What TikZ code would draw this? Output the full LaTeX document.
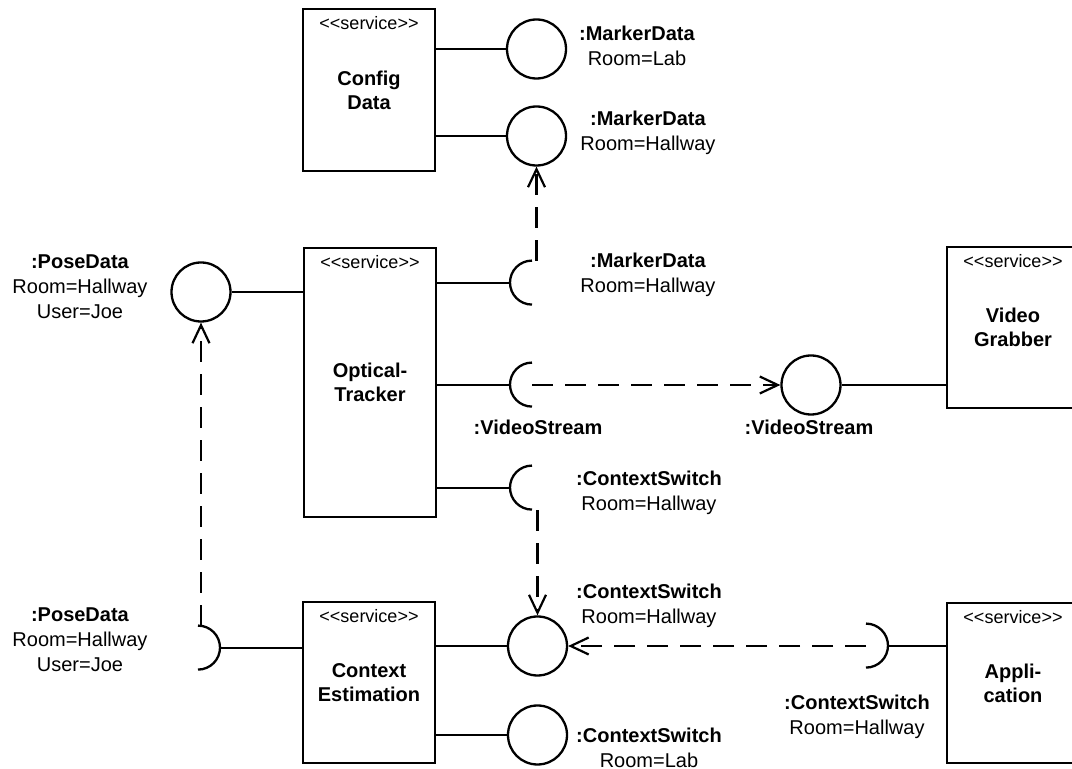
\documentclass[tikz,border=0pt]{standalone}
\usepackage{fontspec}
\setmainfont{Liberation Sans}
\usetikzlibrary{arrows.meta}

\newcommand{\stereo}{<\kern0pt<service>\kern0pt>}

\tikzset{
  svc/.style={draw, line width=1pt, minimum width=66pt, align=center, inner sep=0pt,
    font=\bfseries\fontsize{10}{12}\selectfont,
    label={[anchor=north, yshift=-3.8pt, inner sep=0pt, font=\fontsize{9}{10}\selectfont]north:\stereo}},
  iface/.style={draw, circle, line width=1.15pt, minimum size=29.5pt, inner sep=0pt},
  sock/.style={circle, minimum size=22pt, inner sep=0pt},
  txt/.style={align=center, inner sep=0pt, font=\fontsize{10}{12.5}\selectfont},
  conn/.style={line width=1.15pt},
  dep/.style={line width=1.2pt, dash pattern=on 10.5pt off 6pt,
    -{Straight Barb[length=9pt,width=8.5pt,line width=1.1pt]}}
}

\begin{document}
\begin{tikzpicture}[x=0.5pt, y=-0.5pt]
	\useasboundingbox (0,0) rectangle (1072,769);

	% services
	\node[svc, minimum height=81pt] (cfg) at (369,90) {Config\\Data};
	\node[svc, minimum height=134.5pt] (ot) at (370,382.5) {Optical-\\Tracker};
	\node[svc, minimum height=80.5pt] (vg) at (1013,327.5) {Video\\Grabber};
	\node[svc, minimum height=80.5pt] (ce) at (369,682.5) {Context\\Estimation};
	\node[svc, minimum height=80pt] (app) at (1013,683) {Appli-\\cation};

	% provided interfaces
	\node[iface] (mk1) at (536.5,49) {};
	\node[iface] (mk2) at (536.5,136) {};
	\node[iface] (pd) at (201,292) {};
	\node[iface] (vs) at (811,385) {};
	\node[iface] (csh) at (537.5,646) {};
	\node[iface] (csl) at (537.5,735) {};

	% required interfaces
	\node[sock] (mks) at (532,283) {};
	\node[sock] (vss) at (532,385) {};
	\node[sock] (css) at (532,488) {};
	\node[sock] (pds) at (198,648) {};
	\node[sock] (aps) at (866,646) {};
	\draw[conn] (mks.north) arc[start angle=90, end angle=270, radius=11pt];
	\draw[conn] (vss.north) arc[start angle=90, end angle=270, radius=11pt];
	\draw[conn] (css.north) arc[start angle=90, end angle=270, radius=11pt];
	\draw[conn] (pds.north) arc[start angle=90, end angle=-90, radius=11pt];
	\draw[conn] (aps.north) arc[start angle=90, end angle=-90, radius=11pt];

	% labels
	\node[txt] (mk1t) at (637,45.5) {\textbf{:MarkerData}\\Room=Lab};
	\node[txt] (mk2t) at (648,132.5) {\textbf{:MarkerData}\\Room=Hallway};
	\node[txt] (pdt) at (80,287) {\textbf{:PoseData}\\Room=Hallway\\User=Joe};
	\node[txt] (mkst) at (648,275) {\textbf{:MarkerData}\\Room=Hallway};
	\node[txt] (vsst) at (538,427) {\textbf{:VideoStream}};
	\node[txt] (vst) at (809,427) {\textbf{:VideoStream}};
	\node[txt] (csst) at (649,493) {\textbf{:ContextSwitch}\\Room=Hallway};
	\node[txt] (csht) at (649,606) {\textbf{:ContextSwitch}\\Room=Hallway};
	\node[txt] (cslt) at (649,747.5) {\textbf{:ContextSwitch}\\Room=Lab};
	\node[txt] (pdst) at (80,640) {\textbf{:PoseData}\\Room=Hallway\\User=Joe};
	\node[txt] (apst) at (857,717) {\textbf{:ContextSwitch}\\Room=Hallway};

	% connectors
	\draw[conn] (mk1) -- (mk1 -| cfg.east);
	\draw[conn] (mk2) -- (mk2 -| cfg.east);
	\draw[conn] (pd) -- (pd -| ot.west);
	\draw[conn] (mks.west) -- (mks.west -| ot.east);
	\draw[conn] (vss.west) -- (vss.west -| ot.east);
	\draw[conn] (css.west) -- (css.west -| ot.east);
	\draw[conn] (vs) -- (vs -| vg.west);
	\draw[conn] (pds.east) -- (pds.east -| ce.west);
	\draw[conn] (csh) -- (csh -| ce.east);
	\draw[conn] (csl) -- (csl -| ce.east);
	\draw[conn] (aps.east) -- (aps.east -| app.west);

	% dependencies
	\draw[dep] (mks.north -| mk2) -- (mk2);
	\draw[dep] (vss.center) -- (vs);
	\draw[dep] (css.south -| csh) -- (csh);
	\draw[dep] (aps.center) -- (csh);
	\draw[dep] (pds.north -| pd) -- (pd);
\end{tikzpicture}
\end{document}
